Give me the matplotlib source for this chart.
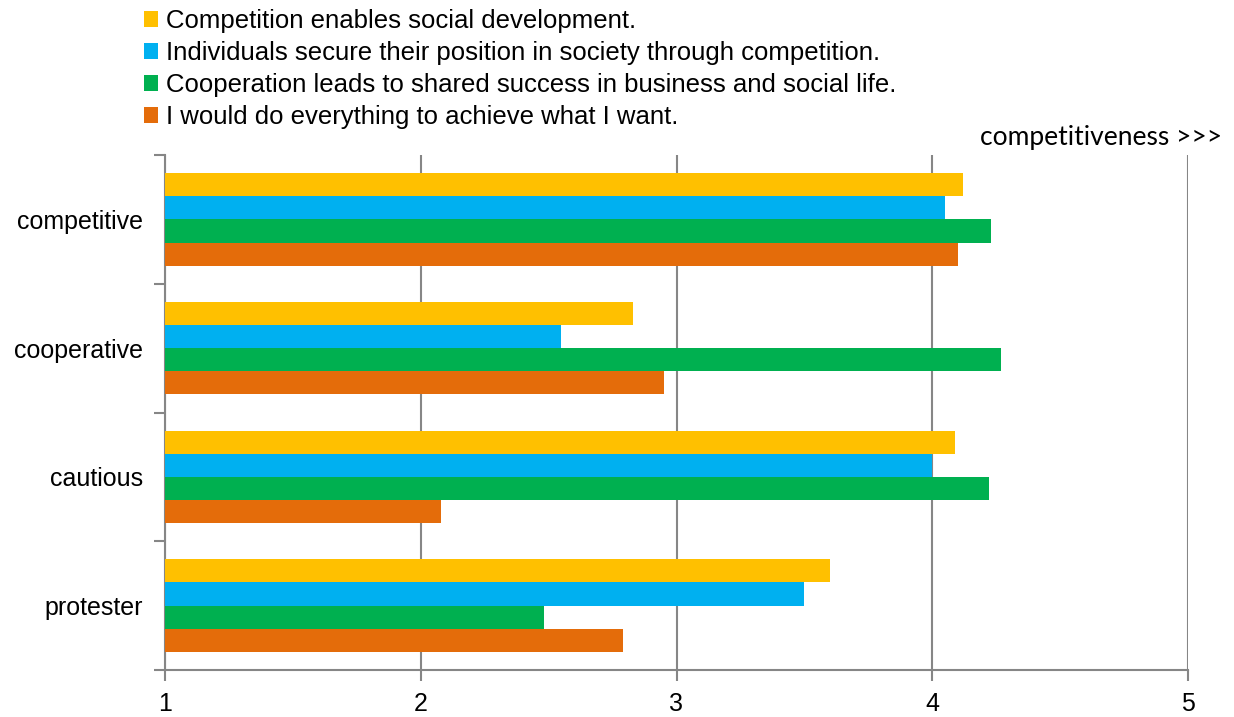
import matplotlib.pyplot as plt
import numpy as np

# horizontal grouped bars
categories = ['competitive', 'cooperative', 'cautious', 'protester']
series = ['Competition enables social development.',
          'Individuals secure their position in society through competition.',
          'Cooperation leads to shared success in business and social life.',
          'I would do everything to achieve what I want.']
colors = ['#FFC000', '#00B0F0', '#00B050', '#E46C0A']

development = [4.12, 2.83, 4.09, 3.60]
position = [4.05, 2.55, 4.00, 3.50]
cooperation = [4.23, 4.27, 4.22, 2.48]
everything = [4.10, 2.95, 2.08, 2.79]
values = [development, position, cooperation, everything]

plt.rcParams['font.family'] = ['Liberation Sans', 'DejaVu Sans']

fig = plt.figure(figsize=(12.34, 7.17), dpi=100)
ax = fig.add_axes([165 / 1234, 1 - 670 / 717, (1188 - 165) / 1234, (670 - 155) / 717])

n = len(categories)
centers = np.arange(n)[::-1] + 0.5  # competitive at top
bar_h = 0.18
for i, (vals, col, lab) in enumerate(zip(values, colors, series)):
    y = centers + (1.5 - i) * bar_h
    ax.barh(y, np.array(vals) - 1, left=1, height=bar_h, color=col, label=lab, zorder=3)

ax.set_xlim(1, 5)
ax.set_ylim(0, n)
ax.set_xticks([1, 2, 3, 4, 5])
ax.set_yticks(np.arange(n + 1))
ax.set_yticklabels([])
ax.set_yticks(centers, minor=True)
ax.set_yticklabels(categories, minor=True)
ax.tick_params(axis='y', which='minor', length=0, labelsize=18, pad=16)
ax.tick_params(axis='y', which='major', length=8, width=1.5, color='#868686')
ax.tick_params(axis='x', length=8, width=1.5, color='#868686', labelsize=18, pad=8)
ax.grid(axis='x', color='#868686', linewidth=1.5, zorder=0)

for s in ['top', 'right']:
    ax.spines[s].set_visible(False)
for s in ['left', 'bottom']:
    ax.spines[s].set_color('#868686')
    ax.spines[s].set_linewidth(1.5)

fig.text(1222 / 1234, 1 - 137 / 717, 'competitiveness >>>', ha='right', va='center',
         fontsize=19, family=['Lato', 'DejaVu Sans'])

fig.legend(loc='upper left', bbox_to_anchor=(134 / 1234, 1 + 1 / 717), frameon=False,
           fontsize=18.5, handlelength=0.55, handleheight=0.55, handletextpad=0.3,
           labelspacing=0.31, borderaxespad=0)

fig.savefig('out.png', dpi=100)
